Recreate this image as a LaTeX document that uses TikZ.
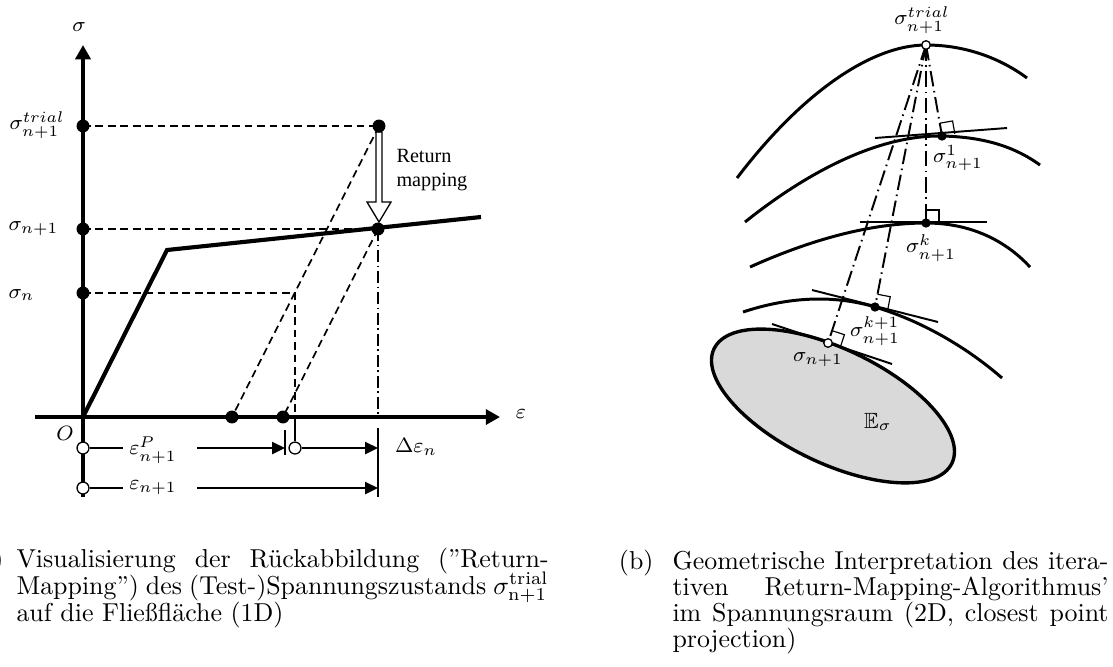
\documentclass[tikz,border=0pt]{standalone}
\usepackage{amsmath,amssymb}
\usepackage{fontspec}
\newfontfamily\tnrfont{Liberation Serif}
\usetikzlibrary{arrows.meta}
\begin{document}
\begin{tikzpicture}[x=0.386pt,y=-0.386pt,
  axisline/.style={line width=1.35pt,-{Triangle[length=5.5pt,width=5.8pt]}},
  stresscurve/.style={line width=1.6pt,line join=miter},
  dashln/.style={line width=0.65pt,dash pattern=on 3pt off 1.8pt},
  ddleft/.style={line width=0.65pt,dash pattern=on 4.5pt off 1.5pt on 0.6pt off 1.5pt},
  ddright/.style={line width=0.75pt,dash pattern=on 6pt off 1.8pt on 0.6pt off 1.8pt},
  dimarrow/.style={line width=1pt,-{Triangle[length=5pt,width=4.6pt]}},
  thinln/.style={line width=0.7pt},
  tickln/.style={line width=0.8pt},
  bigdot/.style={circle,fill=black,inner sep=0pt,minimum size=5pt},
  opendot/.style={circle,draw=black,fill=white,line width=0.5pt,inner sep=0pt,minimum size=4.6pt},
  rdot/.style={circle,fill=black,inner sep=0pt,minimum size=3.6pt},
  ropen/.style={circle,draw=black,fill=white,line width=0.5pt,inner sep=0pt,minimum size=3.3pt},
  mlbl/.style={inner sep=0pt,font=\fontsize{8.5}{10}\selectfont},
  captxt/.style={inner sep=0pt,anchor=base west,font=\fontsize{10}{12}\selectfont},
  yieldcurve/.style={line width=1.15pt},
  tangentln/.style={line width=0.75pt},
  rightangle/.style={line width=0.45pt},
]
\useasboundingbox (0,0) rectangle (1113,666);

% ---------------- left panel ----------------
\coordinate (O) at (83,417);
\coordinate (sigtop) at (83,45);
\coordinate (sigbot) at (83,497);
\coordinate (epsl) at (35,417);
\coordinate (epsr) at (500,417);
\coordinate (Y) at (167,250);
\coordinate (H) at (481,217);
\coordinate (ST) at (83,126);
\coordinate (SN1) at (83,229);
\coordinate (SN) at (83,293);
\coordinate (T) at (379,126);
\coordinate (N) at (378,229);
\coordinate (Q) at (295,293);
\coordinate (Qf) at (295,417);
\coordinate (E1) at (232,417);
\coordinate (E2) at (283,417);
\coordinate (Nf) at (378,417);

\draw[dashln] (ST) -- (T);
\draw[dashln] (SN1) -- (N);
\draw[dashln] (SN) -- (Q) -- (Qf);
\draw[dashln] (T) -- (E1);
\draw[dashln] (N) -- (E2);
\draw[ddleft] (N) -- (Nf);
\draw[axisline] (epsl) -- (epsr);
\draw[axisline] (sigbot) -- (sigtop);
\draw[stresscurve] (O) -- (Y) -- (H);

% return mapping arrow
\draw[line width=0.5pt,fill=white] (376,132) -- (376,202) -- (367,202) -- (379,222) -- (391,202) -- (382,202) -- (382,132) -- cycle;

\node[bigdot] (dST) at (ST) {};
\node[bigdot] (dSN1) at (SN1) {};
\node[bigdot] (dSN) at (SN) {};
\node[bigdot] (dT) at (T) {};
\node[bigdot] (dN) at (N) {};
\node[bigdot] (dE1) at (E1) {};
\node[bigdot] (dE2) at (E2) {};

% strain rows
\coordinate (c1e) at (123,448);
\coordinate (c2e) at (123,488);
\coordinate (a1s) at (197,448);
\coordinate (a1e) at (285,448);
\coordinate (a2e) at (378,448);
\coordinate (a3s) at (197,488);
\coordinate (a3e) at (378,488);
\coordinate (tk1) at (285,430);
\coordinate (tk2) at (285,455);
\coordinate (dt1) at (378,428);
\coordinate (dt2) at (378,497);
\node[opendot] (c1) at (83,448) {};
\node[opendot] (c2) at (83,488) {};
\node[opendot] (c3) at (295,448) {};
\draw[thinln] (c1) -- (c1e);
\draw[thinln] (c2) -- (c2e);
\draw[dimarrow] (a1s) -- (a1e);
\draw[tickln] (tk1) -- (tk2);
\draw[thinln] (c3) -- (Qf);
\draw[dimarrow] (c3) -- (a2e);
\draw[tickln] (dt1) -- (dt2);
\draw[dimarrow] (a3s) -- (a3e);

\node[mlbl] (lsig) at (79,27) {$\sigma$};
\node[mlbl,anchor=west] (lst) at (9,125) {$\sigma^{trial}_{n+1}$};
\node[mlbl,anchor=west] (lsn1) at (8,229) {$\sigma_{n+1}$};
\node[mlbl,anchor=west] (lsn) at (8,295) {$\sigma_{n}$};
\node[mlbl] (lO) at (65,433) {$O$};
\node[mlbl] (leps) at (521,414) {$\varepsilon$};
\node[mlbl] (lep) at (153,450) {$\varepsilon^{P}_{n+1}$};
\node[mlbl] (len) at (153,488) {$\varepsilon_{n+1}$};
\node[mlbl] (lde) at (416,447) {$\Delta\varepsilon_{n}$};
\node[inner sep=0pt,anchor=west,align=left,font=\tnrfont\fontsize{7.8}{9.6}\selectfont] (lrm) at (396,170) {Return\\mapping};

% ---------------- right panel ----------------
\coordinate (R0) at (926,45);
\coordinate (R1) at (942,136);
\coordinate (Rk) at (926,223);
\coordinate (Rk1) at (875,307);
\coordinate (Rn) at (828,343);
\coordinate (EC) at (833,406);

\draw[line width=1.3pt,fill=black!15,rotate around={-25.7:(EC)}] (EC) ellipse [x radius=132, y radius=57];

\draw[yieldcurve] (737,178) .. controls (800,95) and (870,45) .. (R0) .. controls (965,45) and (1000,58) .. (1027,78);
\draw[yieldcurve] (745,222) .. controls (810,170) and (880,135) .. (R1) .. controls (985,137) and (1015,147) .. (1040,165);
\draw[yieldcurve] (750,267) .. controls (810,240) and (870,223) .. (Rk) .. controls (970,223) and (1005,240) .. (1030,267);
\draw[yieldcurve] (743,312) .. controls (800,293) and (845,298) .. (Rk1) .. controls (925,322) and (970,350) .. (1002,378);

\coordinate (t1a) at (875,138);
\coordinate (t1b) at (1007,128);
\coordinate (tka) at (860,222);
\coordinate (tkb) at (987,222);
\coordinate (tk1a) at (812,290);
\coordinate (tk1b) at (938,322);
\coordinate (tna) at (772,324);
\coordinate (tnb) at (892,364);
\draw[tangentln] (t1a) -- (t1b);
\draw[tangentln] (tka) -- (tkb);
\draw[tangentln] (tk1a) -- (tk1b);
\draw[tangentln] (tna) -- (tnb);

\draw[rightangle] (939.75,123.2) -- (952.55,120.95) -- (954.8,133.75);
\draw[rightangle] (926,210) -- (939,210) -- (939,223);
\draw[rightangle] (877.5,294.25) -- (890.25,296.7) -- (887.75,309.5);
\draw[rightangle] (832.06,330.65) -- (844.4,334.7) -- (840.35,347.06);

\draw[ddright] (R0) -- (R1);
\draw[ddright] (R0) -- (Rk);
\draw[ddright] (R0) -- (Rk1);
\draw[ddright] (R0) -- (Rn);

\node[ropen] (dR0) at (R0) {};
\node[rdot] (dR1) at (R1) {};
\node[rdot] (dRk) at (Rk) {};
\node[rdot] (dRk1) at (Rk1) {};
\node[ropen] (dRn) at (Rn) {};

\node[mlbl] (lR0) at (922,20) {$\sigma^{trial}_{n+1}$};
\node[mlbl] (lR1) at (958,158) {$\sigma^{1}_{n+1}$};
\node[mlbl] (lRk) at (931,248) {$\sigma^{k}_{n+1}$};
\node[mlbl] (lRk1) at (875,331) {$\sigma^{k+1}_{n+1}$};
\node[mlbl] (lRn) at (818,360) {$\sigma_{n+1}$};
\node[mlbl] (lE) at (878,422) {$\mathbb{E}_{\sigma}$};

% ---------------- captions ----------------
\node[captxt,anchor=base east] (capa0) at (4,567) {(a)};
\node[captxt] (capa1) at (16,567) {\makebox[205.4pt][s]{Visualisierung der Rückabbildung (”Return-}};
\node[captxt] (capa2) at (16,594) {\makebox[205.4pt][s]{Mapping”) des (Test-)Spannungszustands $\sigma^{\mathrm{trial}}_{\mathrm{n+1}}$}};
\node[captxt] (capa3) at (16,621) {auf die Fließfläche (1D)};
\node[captxt,anchor=base east] (capb0) at (654,569) {(b)};
\node[captxt] (capb1) at (672,569) {\makebox[168.3pt][s]{Geometrische Interpretation des itera-}};
\node[captxt] (capb2) at (672,595) {\makebox[168.3pt][s]{tiven Return-Mapping-Algorithmus’}};
\node[captxt] (capb3) at (672,621) {\makebox[168.3pt][s]{im Spannungsraum (2D, closest point}};
\node[captxt] (capb4) at (672,647) {projection)};
\end{tikzpicture}
\end{document}
